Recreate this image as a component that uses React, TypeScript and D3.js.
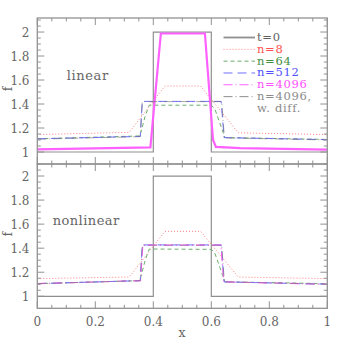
import React from 'react';
import * as d3 from 'd3';

// x positions + f values
const xT0 = [0, 0.4, 0.4, 0.6, 0.6, 1];
const fT0 = [1, 1, 2, 2, 1, 1];

const xN8 = [0, 0.317, 0.44, 0.563, 0.693, 1];
const fN8Lin = [1.145, 1.164, 1.55, 1.55, 1.16, 1.145];
const fN8Non = [1.147, 1.16, 1.54, 1.54, 1.16, 1.147];

const xN64 = [0, 0.354, 0.372, 0.386, 0.6, 0.612, 0.647, 1];
const fN64Lin = [1.11, 1.134, 1.3, 1.39, 1.39, 1.36, 1.12, 1.105];
const fN64Non = [1.105, 1.13, 1.3, 1.393, 1.39, 1.36, 1.12, 1.105];

const xN512 = [0, 0.355, 0.362, 0.634, 0.644, 1];
const fN512Lin = [1.11, 1.13, 1.422, 1.422, 1.12, 1.103];
const fN512Non = [1.105, 1.13, 1.427, 1.427, 1.12, 1.1];

const xN4096Lin = [0, 0.39, 0.426, 0.578, 0.606, 0.616, 0.7, 1];
const fN4096Lin = [1.022, 1.038, 1.988, 1.988, 1.1, 1.042, 1.032, 1.02];
const xN4096Non = [0, 0.356, 0.364, 0.633, 0.643, 1];
const fN4096Non = [1.105, 1.13, 1.425, 1.425, 1.12, 1.1];

const xDiff = [0, 0.355, 0.362, 0.636, 0.645, 1];
const fDiffLin = [1.107, 1.128, 1.42, 1.42, 1.118, 1.1];
const fDiffNon = [1.105, 1.13, 1.425, 1.425, 1.12, 1.1];

const xTicks = [0, 0.2, 0.4, 0.6, 0.8, 1];
const yTicks = [1, 1.2, 1.4, 1.6, 1.8, 2];

const legendLabels = ['t=0', 'n=8', 'n=64', 'n=512', 'n=4096', 'n=4096,', 'w. diff.'];

const styles = [
  { stroke: '#8f8f8f', text: '#606060', dash: null, width: 1.2 },
  { stroke: '#ff8080', text: '#ff5050', dash: '1,2', width: 1 },
  { stroke: '#6aae6a', text: '#3f8f3f', dash: '4,3', width: 1 },
  { stroke: '#7070ff', text: '#5050ff', dash: '9,5', width: 1 },
  { stroke: '#ff60ff', text: '#ff50ff', dash: '9,3,1,3', width: 1.1 },
  { stroke: '#707070', text: '#8a8a8a', dash: '9,3,1,3', width: 0.8 },
];

const W = 346;
const H = 346;
const left = 37.3;
const right = 327.3;
const serif = '"DejaVu Serif", serif';
const frame = '#929292';
const ink = '#666';

const xScale = d3.scaleLinear().domain([0, 1]).range([left, right]);

const zip = (xs, ys) => xs.map((x, i) => [x, ys[i]]);

const Panel = ({ top, bottom, domain, series, label, labelX, labelY, labelLen, showX }) => {
  const y = d3.scaleLinear().domain(domain).range([bottom, top]);
  const line = d3.line().x(d => xScale(d[0])).y(d => y(d[1]));
  const xMinor = d3.range(0, 1.0001, 0.05);
  const yMinor = d3.range(1, 2.1001, 0.05).filter(v => v <= domain[1]);
  return (
    <g>
      <defs>
        <clipPath id={`clip${top}`}>
          <rect x={left} y={top} width={right - left} height={bottom - top} />
        </clipPath>
      </defs>
      <g clipPath={`url(#clip${top})`}>
        {series.map((s, i) => (
          <path
            key={i}
            d={line(s.data)}
            fill="none"
            stroke={styles[s.style].stroke}
            strokeWidth={s.width || styles[s.style].width}
            strokeDasharray={s.dash === undefined ? styles[s.style].dash : s.dash}
          />
        ))}
      </g>
      <rect x={left} y={top} width={right - left} height={bottom - top} fill="none" stroke={frame} strokeWidth={1.3} />
      {xMinor.map((v, i) => {
        const major = Math.abs(v * 5 - Math.round(v * 5)) < 1e-6;
        const len = major ? 7 : 3.5;
        return (
          <g key={i} stroke={frame} strokeWidth={1}>
            <line x1={xScale(v)} x2={xScale(v)} y1={top} y2={top + len} />
            <line x1={xScale(v)} x2={xScale(v)} y1={bottom} y2={bottom - len} />
          </g>
        );
      })}
      {yMinor.map((v, i) => {
        const major = Math.abs(v * 5 - Math.round(v * 5)) < 1e-6;
        const len = major ? 7 : 3.5;
        return (
          <g key={i} stroke={frame} strokeWidth={1}>
            <line x1={left} x2={left + len} y1={y(v)} y2={y(v)} />
            <line x1={right} x2={right - len} y1={y(v)} y2={y(v)} />
          </g>
        );
      })}
      {yTicks.map(v => (
        <text key={v} x={29.5} y={y(v) + 4.5} textAnchor="end" fontFamily={serif} fontSize={12} fill={ink}>
          {d3.format('~g')(v)}
        </text>
      ))}
      {showX &&
        xTicks.map(v => (
          <text key={v} x={xScale(v)} y={326} textAnchor="middle" fontFamily={serif} fontSize={12} fill={ink}>
            {d3.format('~g')(v)}
          </text>
        ))}
      <text
        transform={`translate(11.5 ${(top + bottom) / 2 - 2}) rotate(-90)`}
        textAnchor="middle"
        fontFamily={serif}
        fontSize={12.5}
        fill={ink}
      >
        f
      </text>
      <text
        x={labelX}
        y={labelY}
        fontFamily={serif}
        fontSize={13}
        fill={ink}
        textLength={labelLen}
        lengthAdjust="spacing"
      >
        {label}
      </text>
    </g>
  );
};

const Legend = () => {
  const base = d3.range(7).map(i => 41 + i * 11.83);
  return (
    <g>
      {legendLabels.map((l, i) => (
        <g key={i}>
          {i < 6 && (
            <line
              x1={223.5}
              x2={255}
              y1={base[i] - 3.5}
              y2={base[i] - 3.5}
              stroke={styles[i].stroke}
              strokeWidth={i === 0 ? 1.8 : styles[i].width}
              strokeDasharray={styles[i].dash}
            />
          )}
          <text x={257} y={base[i]} fontFamily={serif} fontSize={11.5} letterSpacing={0.7} fill={styles[Math.min(i, 5)].text}>
            {l}
          </text>
        </g>
      ))}
    </g>
  );
};

export default function App() {
  const linSeries = [
    { data: zip(xT0, fT0), style: 0 },
    { data: zip(xN8, fN8Lin), style: 1 },
    { data: zip(xN64, fN64Lin), style: 2 },
    { data: zip(xN512, fN512Lin), style: 3 },
    { data: zip(xN4096Lin, fN4096Lin), style: 4, width: 2.2, dash: null },
    { data: zip(xDiff, fDiffLin), style: 5, width: 0.6 },
  ];
  const nonSeries = [
    { data: zip(xT0, fT0), style: 0 },
    { data: zip(xN8, fN8Non), style: 1 },
    { data: zip(xN64, fN64Non), style: 2 },
    { data: zip(xN512, fN512Non), style: 3 },
    { data: zip(xN4096Non, fN4096Non), style: 4 },
    { data: zip(xDiff, fDiffNon), style: 5, width: 0.6 },
  ];
  return (
    <div style={{ position: 'fixed', left: 0, top: 0 }}>
      <svg width={W} height={H} style={{ display: 'block', background: '#fff' }}>
        <Panel top={18} bottom={164} domain={[0.9, 2.117]} series={linSeries} label="linear" labelX={66.7} labelY={80} labelLen={41.5} showX={false} />
        <Panel top={164} bottom={308.3} domain={[0.9, 2.1]} series={nonSeries} label="nonlinear" labelX={52.7} labelY={224.5} labelLen={66.5} showX={true} />
        <Legend />
        <text x={182} y={337} textAnchor="middle" fontFamily={serif} fontSize={12.5} fill={ink}>
          x
        </text>
      </svg>
    </div>
  );
}
